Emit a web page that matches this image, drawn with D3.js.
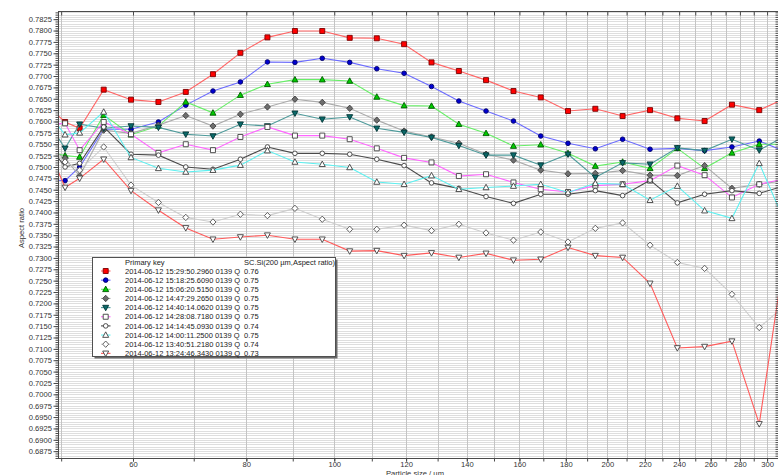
<!DOCTYPE html>
<html>
<head>
<meta charset="utf-8">
<script src="https://cdn.jsdelivr.net/npm/d3@7"></script>
<style>
  html, body { margin: 0; padding: 0; background: #ffffff; }
  svg { display: block; font-family: "Liberation Sans", Arial, sans-serif; }
</style>
</head>
<body>
<svg id="chart" width="778" height="475"></svg>
<script>
// Particle size classes (µm); the first and last classes fall outside the visible axis range
const sizes = [48.5, 50.5, 52.4, 55.7, 59.7, 64.0, 68.6, 73.5, 78.8, 84.4, 90.5, 97.0, 104.0, 111.4,
  119.4, 128.0, 137.2, 147.0, 157.6, 168.9, 181.0, 194.0, 207.9, 222.9, 238.9, 256.0, 274.4, 294.1, 315.2];

// Aspect ratio per size class, one array per measurement
const s1 = [0.7631, 0.7599, 0.7585, 0.7670, 0.7648, 0.7643, 0.7665, 0.7704, 0.7751, 0.7785, 0.7799, 0.7799, 0.7784, 0.7783,
  0.7770, 0.7730, 0.7711, 0.7691, 0.7667, 0.7653, 0.7623, 0.7628, 0.7612, 0.7625, 0.7607, 0.7601, 0.7637, 0.7625, 0.7652];
const s2 = [0.7472, 0.7470, 0.7500, 0.7583, 0.7583, 0.7599, 0.7636, 0.7667, 0.7687, 0.7731, 0.7730, 0.7739, 0.7730, 0.7716,
  0.7706, 0.7677, 0.7645, 0.7623, 0.7601, 0.7568, 0.7552, 0.7540, 0.7561, 0.7539, 0.7541, 0.7536, 0.7544, 0.7557, 0.7533];
const s3 = [0.7533, 0.7525, 0.7522, 0.7614, 0.7571, 0.7590, 0.7643, 0.7619, 0.7658, 0.7682, 0.7692, 0.7692, 0.7689, 0.7654,
  0.7635, 0.7634, 0.7594, 0.7574, 0.7546, 0.7549, 0.7530, 0.7502, 0.7511, 0.7497, 0.7541, 0.7497, 0.7531, 0.7550, 0.7550];
const s4 = [0.7541, 0.7519, 0.7480, 0.7581, 0.7574, 0.7592, 0.7613, 0.7590, 0.7616, 0.7632, 0.7649, 0.7642, 0.7629, 0.7603,
  0.7579, 0.7566, 0.7552, 0.7528, 0.7515, 0.7493, 0.7485, 0.7486, 0.7492, 0.7482, 0.7481, 0.7503, 0.7453, 0.7462, 0.7471];
const s5 = [0.7594, 0.7541, 0.7594, 0.7585, 0.7590, 0.7587, 0.7572, 0.7568, 0.7594, 0.7590, 0.7618, 0.7605, 0.7610, 0.7585,
  0.7576, 0.7565, 0.7547, 0.7526, 0.7526, 0.7504, 0.7528, 0.7477, 0.7509, 0.7506, 0.7542, 0.7536, 0.7561, 0.7537, 0.7570];
const s6 = [0.7593, 0.7596, 0.7537, 0.7599, 0.7572, 0.7531, 0.7550, 0.7537, 0.7566, 0.7588, 0.7569, 0.7569, 0.7561, 0.7541,
  0.7520, 0.7510, 0.7480, 0.7484, 0.7466, 0.7451, 0.7445, 0.7459, 0.7462, 0.7470, 0.7503, 0.7482, 0.7433, 0.7462, 0.7475];
const s7 = [0.7546, 0.7500, 0.7508, 0.7588, 0.7528, 0.7526, 0.7500, 0.7495, 0.7517, 0.7544, 0.7530, 0.7530, 0.7528, 0.7517,
  0.7503, 0.7465, 0.7453, 0.7435, 0.7420, 0.7440, 0.7440, 0.7448, 0.7437, 0.7471, 0.7421, 0.7440, 0.7448, 0.7442, 0.7460];
const s8 = [0.7615, 0.7571, 0.7575, 0.7621, 0.7521, 0.7497, 0.7489, 0.7493, 0.7504, 0.7536, 0.7511, 0.7506, 0.7499, 0.7467,
  0.7462, 0.7481, 0.7451, 0.7455, 0.7458, 0.7462, 0.7444, 0.7464, 0.7462, 0.7427, 0.7458, 0.7404, 0.7387, 0.7508, 0.7370];
const s9 = [0.7541, 0.7511, 0.7493, 0.7544, 0.7460, 0.7422, 0.7389, 0.7379, 0.7396, 0.7393, 0.7409, 0.7385, 0.7363, 0.7363,
  0.7372, 0.7360, 0.7374, 0.7355, 0.7339, 0.7357, 0.7335, 0.7365, 0.7377, 0.7328, 0.7290, 0.7277, 0.7220, 0.7147, 0.7198];
const s10 = [0.7535, 0.7455, 0.7475, 0.7517, 0.7448, 0.7405, 0.7366, 0.7341, 0.7346, 0.7350, 0.7341, 0.7341, 0.7315, 0.7316,
  0.7305, 0.7311, 0.7301, 0.7310, 0.7295, 0.7297, 0.7323, 0.7305, 0.7301, 0.7244, 0.7102, 0.7105, 0.7117, 0.6935, 0.7337];

const seriesNames = [
  "2014-06-12 15:29:50.2960 0139 Q", "2014-06-12 15:18:25.6090 0139 Q", "2014-06-12 15:06:20.5150 0139 Q",
  "2014-06-12 14:47:29.2650 0139 Q", "2014-06-12 14:40:14.0620 0139 Q", "2014-06-12 14:28:08.7180 0139 Q",
  "2014-06-12 14:14:45.0930 0139 Q", "2014-06-12 14:00:11.2500 0139 Q", "2014-06-12 13:40:51.2180 0139 Q",
  "2014-06-12 13:24:46.3430 0139 Q"];
const seriesMeans = ["0.76", "0.75", "0.75", "0.75", "0.75", "0.75", "0.74", "0.75", "0.74", "0.73"];

const xTickLabels = [60, 80, 100, 120, 140, 160, 180, 200, 220, 240, 260, 280, 300];
const xGridValues = [50, 60, 70, 80, 90, 100, 110, 120, 130, 140, 150, 160, 170, 180, 190, 200,
  210, 220, 230, 240, 250, 260, 270, 280, 290, 300, 310];
const yTickLabels = [0.6875, 0.6900, 0.6925, 0.6950, 0.6975, 0.7000, 0.7025, 0.7050, 0.7075, 0.7100,
  0.7125, 0.7150, 0.7175, 0.7200, 0.7225, 0.7250, 0.7275, 0.7300, 0.7325, 0.7350, 0.7375, 0.7400,
  0.7425, 0.7450, 0.7475, 0.7500, 0.7525, 0.7550, 0.7575, 0.7600, 0.7625, 0.7650, 0.7675, 0.7700,
  0.7725, 0.7750, 0.7775, 0.7800, 0.7825];

// Presentation of each series: line colour, marker shape, marker fill and outline
const styles = [
  { line: "#ff6464", shape: "square",  fill: "#ff0000", stroke: "#7a0000" },
  { line: "#6a6aff", shape: "circle",  fill: "#0000d0", stroke: "#00006a" },
  { line: "#66ee66", shape: "triUp",   fill: "#00cc00", stroke: "#005a00" },
  { line: "#ababab", shape: "diamond", fill: "#6e6e6e", stroke: "#404040" },
  { line: "#4d9a9a", shape: "triDown", fill: "#0b6a6a", stroke: "#023636" },
  { line: "#ff66ff", shape: "square",  fill: "#ffffff", stroke: "#404040" },
  { line: "#4a4a4a", shape: "circle",  fill: "#ffffff", stroke: "#404040" },
  { line: "#5cf0f0", shape: "triUp",   fill: "#ffffff", stroke: "#404040" },
  { line: "#cdcdcd", shape: "diamond", fill: "#ffffff", stroke: "#505050" },
  { line: "#ff5a5a", shape: "triDown", fill: "#ffffff", stroke: "#404040" }
];
const seriesValues = [s1, s2, s3, s4, s5, s6, s7, s8, s9, s10];

const svg = d3.select("#chart");
const plot = { left: 58, right: 780, top: 11, bottom: 458 };

const x = d3.scaleLog().domain([49.6, 310]).range([plot.left, plot.right]);
const y = d3.scaleLinear().domain([0.6860, 0.7843]).range([plot.bottom, plot.top]);

function markerPath(shape) {
  switch (shape) {
    case "square":  return "M-2.5,-2.5H2.5V2.5H-2.5Z";
    case "circle":  return "M-2.3,0A2.3,2.3 0 1,0 2.3,0A2.3,2.3 0 1,0 -2.3,0Z";
    case "triUp":   return "M0,-3.2L3,2.3H-3Z";
    case "triDown": return "M0,3.2L3,-2.3H-3Z";
    case "diamond": return "M0,-3.2L3,0L0,3.2L-3,0Z";
  }
}

// Plot background
svg.append("rect")
  .attr("x", plot.left).attr("y", plot.top)
  .attr("width", plot.right - plot.left).attr("height", plot.bottom - plot.top)
  .attr("fill", "#ffffff");

// Fine horizontal grid every 0.0005
const yMinor = d3.range(1372, 1569).map(k => k / 2000);
svg.append("g").selectAll("line").data(yMinor).join("line")
  .attr("x1", plot.left).attr("x2", plot.right)
  .attr("y1", d => Math.round(y(d)) + 0.5).attr("y2", d => Math.round(y(d)) + 0.5)
  .attr("stroke", "#dedede").attr("stroke-width", 1);

// Vertical grid every 10 µm
svg.append("g").selectAll("line").data(xGridValues).join("line")
  .attr("x1", d => Math.round(x(d)) + 0.5).attr("x2", d => Math.round(x(d)) + 0.5)
  .attr("y1", plot.top).attr("y2", plot.bottom)
  .attr("stroke", "#c4c4c4").attr("stroke-width", 1);

// Series
svg.append("clipPath").attr("id", "plotClip").append("rect")
  .attr("x", plot.left).attr("y", plot.top)
  .attr("width", plot.right - plot.left).attr("height", plot.bottom - plot.top);

const area = svg.append("g").attr("clip-path", "url(#plotClip)");
const line = d3.line().x(d => x(d[0])).y(d => y(d[1]));

seriesValues.forEach((vals, i) => {
  const st = styles[i];
  const pts = vals.map((v, j) => [sizes[j], v]);
  const g = area.append("g");
  g.append("path").datum(pts)
    .attr("d", line).attr("fill", "none")
    .attr("stroke", st.line).attr("stroke-width", 1.1);
  g.selectAll("path.m").data(pts).join("path").attr("class", "m")
    .attr("transform", d => `translate(${x(d[0])},${y(d[1])})`)
    .attr("d", markerPath(st.shape))
    .attr("fill", st.fill).attr("stroke", st.stroke).attr("stroke-width", 0.9);
});

// Frame
const axisColor = "#4a4a4a";
svg.append("rect")
  .attr("x", plot.left + 0.5).attr("y", plot.top + 0.5)
  .attr("width", plot.right - plot.left).attr("height", plot.bottom - plot.top)
  .attr("fill", "none").attr("stroke", axisColor).attr("stroke-width", 1);

// Left axis: labelled major ticks, minor ticks every 0.0005
const yAxis = d3.axisLeft(y).tickValues(yTickLabels).tickFormat(d3.format(".4f")).tickSize(5).tickPadding(1.5);
const gy = svg.append("g").attr("transform", `translate(${plot.left + 0.5},0)`).call(yAxis);
gy.select(".domain").remove();
gy.selectAll(".tick line").attr("stroke", axisColor);
gy.selectAll(".tick text").attr("fill", "#333").style("font-size", "7.6px");
const gyMinor = svg.append("g").attr("transform", `translate(${plot.left + 0.5},0)`)
  .call(d3.axisLeft(y).tickValues(yMinor).tickFormat("").tickSize(3));
gyMinor.select(".domain").remove();
gyMinor.selectAll(".tick line").attr("stroke", axisColor);

// Right edge: inward ticks
const gr = svg.append("g").attr("transform", `translate(${plot.right - 0.5},0)`)
  .call(d3.axisRight(y).tickValues(yMinor).tickFormat("").tickSize(-4));
gr.select(".domain").remove();
gr.selectAll(".tick line").attr("stroke", axisColor);

// Bottom axis
const gx = svg.append("g").attr("transform", `translate(0,${plot.bottom + 0.5})`)
  .call(d3.axisBottom(x).tickValues(xGridValues).tickFormat("").tickSize(3));
gx.select(".domain").remove();
gx.selectAll(".tick line").attr("stroke", axisColor);
const gxl = svg.append("g").attr("transform", `translate(0,${plot.bottom + 0.5})`)
  .call(d3.axisBottom(x).tickValues(xTickLabels).tickFormat(d3.format("d")).tickSize(3).tickPadding(0.5));
gxl.select(".domain").remove();
gxl.selectAll(".tick line").attr("stroke", axisColor);
gxl.selectAll(".tick text").attr("fill", "#333").style("font-size", "7.6px");

// Axis titles
svg.append("text")
  .attr("x", (plot.left + plot.right) / 2 - 4).attr("y", 475.5)
  .attr("text-anchor", "middle").attr("fill", "#333").style("font-size", "7.6px")
  .text("Particle size / µm");
svg.append("text")
  .attr("transform", `translate(24,228) rotate(-90)`)
  .attr("text-anchor", "middle").attr("fill", "#333").style("font-size", "7.6px")
  .text("Aspect ratio");

// Top edge: inward ticks
const gt = svg.append("g").attr("transform", `translate(0,${plot.top + 0.5})`)
  .call(d3.axisTop(x).tickValues(xGridValues).tickFormat("").tickSize(-4));
gt.select(".domain").remove();
gt.selectAll(".tick line").attr("stroke", axisColor);

// Legend
const lg = { x: 92, y: 257, w: 243, h: 99, row: 9.15 };
const legend = svg.append("g");
legend.append("rect")
  .attr("x", lg.x + 2.5).attr("y", lg.y + 2.5).attr("width", lg.w).attr("height", lg.h)
  .attr("fill", "#6a6a6a");
legend.append("rect")
  .attr("x", lg.x + 0.5).attr("y", lg.y + 0.5).attr("width", lg.w).attr("height", lg.h)
  .attr("fill", "#ffffff").attr("stroke", "#505050").attr("stroke-width", 1);
legend.append("text").attr("x", 125).attr("y", lg.y + 8).attr("fill", "#222")
  .style("font-size", "7.5px").text("Primary key");
legend.append("text").attr("x", 244).attr("y", lg.y + 8).attr("fill", "#222")
  .style("font-size", "7.5px").text("SC.Si(200 µm,Aspect ratio)");
seriesNames.forEach((name, i) => {
  const st = styles[i];
  const cy = lg.y + 14 + i * lg.row;
  legend.append("line").attr("x1", 101).attr("x2", 110.5).attr("y1", cy).attr("y2", cy)
    .attr("stroke", st.line).attr("stroke-width", 1.1);
  legend.append("path").attr("transform", `translate(105.7,${cy})`)
    .attr("d", markerPath(st.shape))
    .attr("fill", st.fill).attr("stroke", st.stroke).attr("stroke-width", 0.9);
  legend.append("text").attr("x", 125).attr("y", cy + 2.7).attr("fill", "#222")
    .style("font-size", "7.5px").text(name);
  legend.append("text").attr("x", 244).attr("y", cy + 2.7).attr("fill", "#222")
    .style("font-size", "7.5px").text(seriesMeans[i]);
});
</script>
</body>
</html>
